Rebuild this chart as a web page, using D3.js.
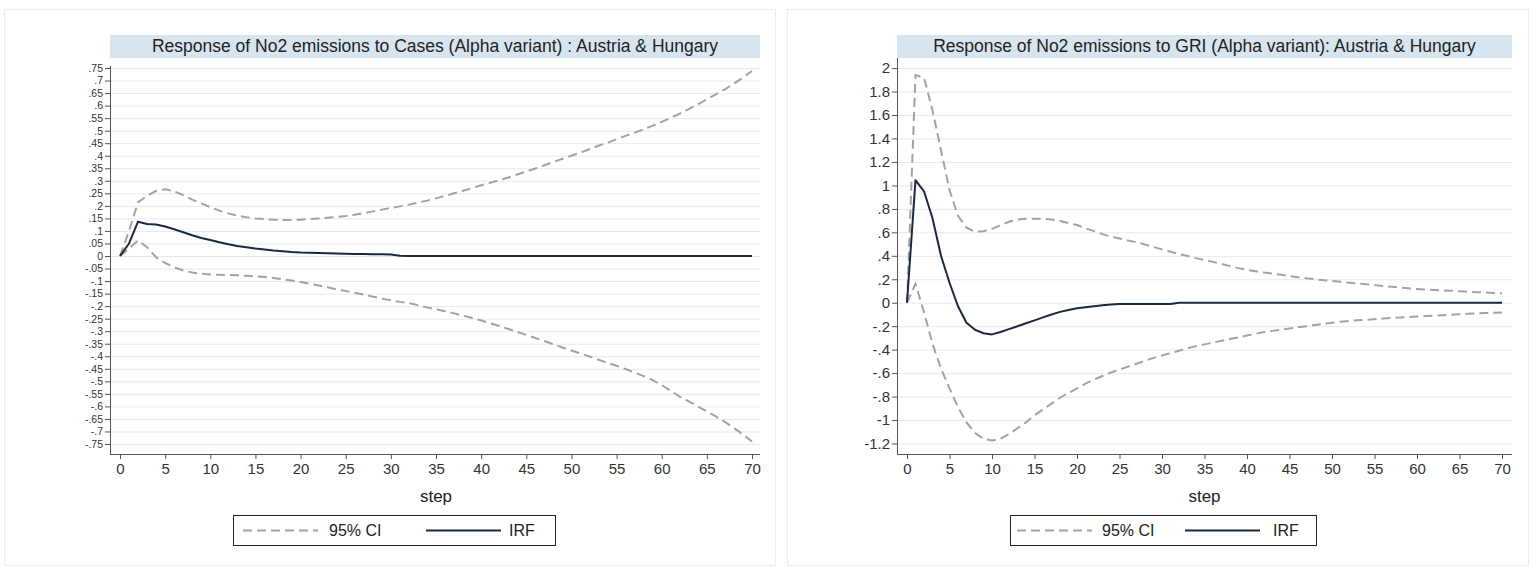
<!DOCTYPE html>
<html><head><meta charset="utf-8">
<script src="https://cdn.jsdelivr.net/npm/d3@7"></script>
<style>
body{margin:0;background:#fff;}
svg{display:block;font-family:"Liberation Sans",Arial,sans-serif;}
</style>
</head><body>
<svg id="chart" width="1539" height="574"></svg>
<script>
// ---------- data ----------
const steps = [0,1,2,3,4,5,6,7,8,9,10,11,12,13,14,15,16,17,18,19,20,21,22,23,24,25,26,27,28,29,30,31,32,33,34,35,36,37,38,39,40,41,42,43,44,45,46,47,48,49,50,51,52,53,54,55,56,57,58,59,60,61,62,63,64,65,66,67,68,69,70];
const xTickLabels = [0,5,10,15,20,25,30,35,40,45,50,55,60,65,70];

const casesTitle = "Response of No2 emissions to Cases (Alpha variant) : Austria & Hungary";
const casesYTicks = [-.75,-.7,-.65,-.6,-.55,-.5,-.45,-.4,-.35,-.3,-.25,-.2,-.15,-.1,-.05,0,.05,.1,.15,.2,.25,.3,.35,.4,.45,.5,.55,.6,.65,.7,.75];
const casesIRF = [0,0.05,0.137,0.128,0.126,0.118,0.107,0.095,0.083,0.072,0.064,0.055,0.047,0.04,0.035,0.03,0.026,0.022,0.019,0.016,0.014,0.013,0.012,0.011,0.01,0.009,0.008,0.008,0.007,0.007,0.006,0.001,0,0,0,0,0,0,0,0,0,0,0,0,0,0,0,0,0,0,0,0,0,0,0,0,0,0,0,0,0,0,0,0,0,0,0,0,0,0,0];
const casesUpper = [0,0.1,0.215,0.24,0.26,0.266,0.258,0.243,0.225,0.21,0.195,0.181,0.17,0.161,0.155,0.15,0.147,0.145,0.144,0.144,0.145,0.147,0.15,0.153,0.156,0.16,0.165,0.171,0.178,0.185,0.192,0.198,0.205,0.213,0.221,0.23,0.24,0.25,0.26,0.271,0.282,0.292,0.302,0.313,0.325,0.337,0.349,0.362,0.375,0.388,0.4,0.413,0.426,0.44,0.452,0.466,0.479,0.492,0.505,0.52,0.535,0.551,0.568,0.586,0.605,0.625,0.645,0.665,0.688,0.712,0.738];
const casesLower = [0,0.03,0.062,0.035,-0.005,-0.028,-0.045,-0.058,-0.066,-0.071,-0.074,-0.075,-0.076,-0.077,-0.079,-0.081,-0.084,-0.088,-0.093,-0.098,-0.104,-0.111,-0.118,-0.125,-0.133,-0.14,-0.147,-0.154,-0.162,-0.17,-0.177,-0.183,-0.188,-0.196,-0.205,-0.213,-0.22,-0.229,-0.238,-0.247,-0.257,-0.268,-0.279,-0.291,-0.303,-0.315,-0.327,-0.339,-0.352,-0.365,-0.377,-0.389,-0.401,-0.414,-0.426,-0.438,-0.451,-0.465,-0.479,-0.495,-0.515,-0.538,-0.561,-0.58,-0.6,-0.62,-0.64,-0.662,-0.686,-0.712,-0.74];

const griTitle = "Response of No2 emissions to GRI (Alpha variant): Austria & Hungary";
const griYTicks = [-1.2,-1,-.8,-.6,-.4,-.2,0,.2,.4,.6,.8,1,1.2,1.4,1.6,1.8,2];
const griIRF = [0,1.045,0.95,0.72,0.4,0.17,-0.03,-0.17,-0.23,-0.26,-0.27,-0.25,-0.225,-0.2,-0.175,-0.15,-0.125,-0.1,-0.078,-0.062,-0.048,-0.038,-0.03,-0.022,-0.015,-0.01,-0.01,-0.01,-0.01,-0.01,-0.01,-0.01,0,0,0,0,0,0,0,0,0,0,0,0,0,0,0,0,0,0,0,0,0,0,0,0,0,0,0,0,0,0,0,0,0,0,0,0,0,0,0];
const griUpper = [0,1.94,1.92,1.64,1.3,0.96,0.74,0.64,0.605,0.61,0.63,0.66,0.69,0.71,0.716,0.716,0.716,0.71,0.696,0.68,0.662,0.635,0.61,0.585,0.563,0.548,0.53,0.515,0.497,0.475,0.455,0.435,0.415,0.398,0.38,0.365,0.348,0.33,0.312,0.295,0.28,0.268,0.257,0.248,0.238,0.228,0.218,0.208,0.2,0.192,0.185,0.178,0.171,0.164,0.157,0.15,0.143,0.136,0.129,0.123,0.117,0.112,0.108,0.105,0.102,0.098,0.094,0.09,0.087,0.083,0.08];
const griLower = [0,0.16,-0.08,-0.35,-0.56,-0.73,-0.89,-1.02,-1.11,-1.16,-1.175,-1.16,-1.12,-1.07,-1.02,-0.96,-0.91,-0.86,-0.81,-0.77,-0.73,-0.69,-0.655,-0.625,-0.595,-0.57,-0.545,-0.52,-0.495,-0.47,-0.45,-0.43,-0.41,-0.39,-0.37,-0.355,-0.34,-0.325,-0.31,-0.295,-0.28,-0.265,-0.25,-0.24,-0.23,-0.22,-0.21,-0.2,-0.19,-0.18,-0.17,-0.162,-0.155,-0.15,-0.145,-0.14,-0.135,-0.13,-0.126,-0.122,-0.118,-0.114,-0.11,-0.106,-0.102,-0.098,-0.094,-0.09,-0.088,-0.086,-0.084];

const xLabel = "step";
const legendLabels = ["95% CI", "IRF"];

// ---------- drawing ----------
const svg = d3.select("#chart");
const fmt = v => v === 0 ? "0" : String(+v.toFixed(2)).replace(/^(-?)0\./, "$1.");
const FONT = "Liberation Sans, Arial, sans-serif";

function panel(o) {
  const g = svg.append("g");
  g.append("rect").attr("x", o.box[0]+0.5).attr("y", o.box[1]+0.5)
    .attr("width", o.box[2]).attr("height", o.box[3])
    .attr("fill", "none").attr("stroke", "#ececec");

  const x = d3.scaleLinear().domain([0, 70]).range(o.xr);
  const y = d3.scaleLinear().domain(o.yd).range(o.yr);

  // title band
  g.append("rect").attr("x", o.px0).attr("y", 35).attr("width", o.px1 - o.px0).attr("height", 23)
    .attr("fill", "#d9e5ee");
  g.append("text").attr("x", (o.px0 + o.px1) / 2).attr("y", 52).attr("text-anchor", "middle")
    .attr("font-size", 17.5).attr("fill", "#222").text(o.title);

  // grid
  g.append("g").selectAll("line").data(o.yt).join("line")
    .attr("x1", o.px0).attr("x2", o.px1)
    .attr("y1", d => y(d) + 0.5).attr("y2", d => y(d) + 0.5)
    .attr("stroke", "#e6eaed").attr("stroke-width", 1);

  // axes
  const ya = g.append("g").attr("transform", `translate(${o.px0},0)`)
    .call(d3.axisLeft(y).tickValues(o.yt).tickFormat(fmt).tickSize(5).tickSizeOuter(0).tickPadding(2));
  ya.select(".domain").remove();
  ya.selectAll(".tick line").attr("stroke", "#555");
  ya.selectAll(".tick text").attr("font-size", o.yfs).attr("fill", "#333").attr("font-family", FONT);
  g.append("line").attr("x1", o.px0 + 0.5).attr("x2", o.px0 + 0.5).attr("y1", o.ytop).attr("y2", 454)
    .attr("stroke", "#555");

  const xa = g.append("g").attr("transform", `translate(0,454)`)
    .call(d3.axisBottom(x).tickValues(xTickLabels).tickFormat(d3.format("d")).tickSize(5).tickSizeOuter(0).tickPadding(4));
  xa.select(".domain").remove();
  xa.selectAll(".tick line").attr("stroke", "#555");
  xa.selectAll(".tick text").attr("font-size", 15).attr("fill", "#333").attr("font-family", FONT);
  g.append("line").attr("x1", o.px0).attr("x2", o.px1).attr("y1", 454.5).attr("y2", 454.5)
    .attr("stroke", "#555");

  g.append("text").attr("x", (o.xr[0] + o.xr[1]) / 2).attr("y", 502).attr("text-anchor", "middle")
    .attr("font-size", 17).attr("fill", "#222").text(xLabel);

  // lines
  const line = d3.line().x((d, i) => x(steps[i])).y(d => y(d));
  g.append("path").datum(o.upper).attr("d", line).attr("fill", "none")
    .attr("stroke", "#a3a3a3").attr("stroke-width", 2).attr("stroke-dasharray", "9,5");
  g.append("path").datum(o.lower).attr("d", line).attr("fill", "none")
    .attr("stroke", "#a3a3a3").attr("stroke-width", 2).attr("stroke-dasharray", "9,5");
  g.append("path").datum(o.irf).attr("d", line).attr("fill", "none")
    .attr("stroke", "#1c2840").attr("stroke-width", 2).attr("stroke-linejoin", "round");

  // legend
  const L = o.leg;
  g.append("rect").attr("x", L.x + 0.5).attr("y", 515.5).attr("width", L.w).attr("height", 30)
    .attr("fill", "#fff").attr("stroke", "#222");
  g.append("line").attr("x1", L.d0).attr("x2", L.d0 + 75).attr("y1", 530.5).attr("y2", 530.5)
    .attr("stroke", "#a3a3a3").attr("stroke-width", 2).attr("stroke-dasharray", "9,5");
  g.append("text").attr("x", L.t0).attr("y", 536).attr("font-size", 16).attr("fill", "#222").text(legendLabels[0]);
  g.append("line").attr("x1", L.s0).attr("x2", L.s0 + 75).attr("y1", 530.5).attr("y2", 530.5)
    .attr("stroke", "#1c2840").attr("stroke-width", 2);
  g.append("text").attr("x", L.t1).attr("y", 536).attr("font-size", 16).attr("fill", "#222").text(legendLabels[1]);
}

panel({
  box: [4, 9, 771, 556], px0: 110, px1: 760, ytop: 66, yfs: 10.5,
  xr: [120, 752], yd: [-0.75, 0.75], yr: [444, 68], yt: casesYTicks,
  title: casesTitle,
  irf: casesIRF, upper: casesUpper, lower: casesLower,
  leg: { x: 233, w: 322, d0: 243, t0: 329, s0: 426, t1: 509 }
});
panel({
  box: [787, 9, 741, 556], px0: 897, px1: 1512, ytop: 58, yfs: 15,
  xr: [907, 1502], yd: [-1.2, 2], yr: [443.5, 68.1], yt: griYTicks,
  title: griTitle,
  irf: griIRF, upper: griUpper, lower: griLower,
  leg: { x: 1010, w: 306, d0: 1017, t0: 1102, s0: 1185, t1: 1273 }
});
</script>
</body></html>
